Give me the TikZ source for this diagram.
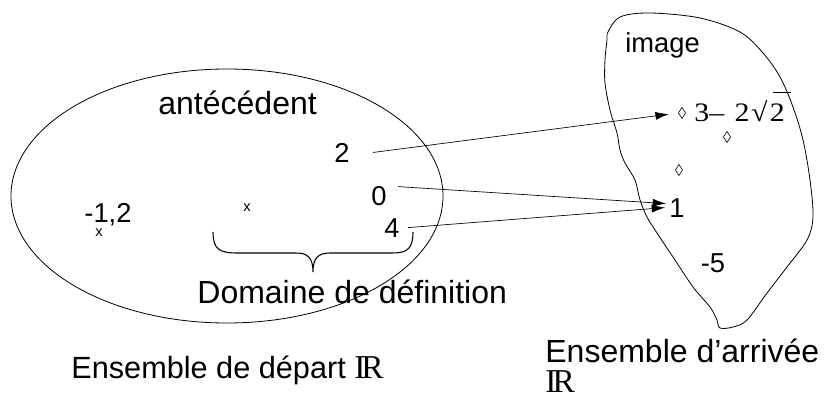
\documentclass[tikz,border=0pt]{standalone}
\usepackage{fontspec}
\usepackage{graphicx}
\setmainfont{Liberation Sans}
\newfontfamily\serif{Liberation Serif}
\usetikzlibrary{arrows.meta,calc,shapes.geometric}
\tikzset{
  big/.style={font=\fontsize{24}{29}\selectfont, inner sep=0pt},
  num/.style={font=\fontsize{20.5}{24}\selectfont, inner sep=0pt},
  xdot/.style={font=\fontsize{11}{13}\selectfont, inner sep=0pt},
  reals/.style={font=\serif\fontsize{25}{30}\selectfont, inner sep=0pt},
  lozenge/.style={diamond, draw, line width=0.45pt, inner sep=0pt,
    minimum width=5.5pt, minimum height=8.5pt},
  arr/.style={-{Latex[length=10pt,width=6pt]}, line width=0.5pt},
}
\newcommand{\dblR}{I\kern-0.12em R}
\begin{document}
\begin{tikzpicture}[x=0.75pt, y=-0.75pt, line width=0.6pt]
\useasboundingbox (0,0) rectangle (829,403);

% starting set
\draw (227,196) ellipse [x radius=162pt, y radius=95.25pt];
\node[big, anchor=base west] (ant) at (158,114) {antécédent};
\node[num, anchor=base] (two) at (342,162) {2};
\node[num, anchor=base] (zero) at (379,205) {0};
\node[num, anchor=base] (four) at (392,237) {4};
\node[num, anchor=base west] (m12) at (84,222) {-1,2};
\node[xdot] (x1) at (99,233) {x};
\node[xdot] (x2) at (247,208) {x};

% brace under the domain
\draw[line width=0.8pt] (213,232) .. controls (213,250) and (220,253) .. (238,253)
  -- (296,253) .. controls (308,253) and (313,258) .. (313,272)
  .. controls (313,258) and (318,253) .. (330,253)
  -- (392,253) .. controls (406,253) and (413,250) .. (413,232);
\node[big, anchor=base west] (dom) at (197,303) {Domaine de définition};

\node[big, font=\fontsize{23}{28}\selectfont, anchor=base west] (dep) at (71,378)
  {Ensemble de départ {\serif\fontsize{25}{30}\selectfont\dblR}};

% target set
\draw plot[smooth cycle, tension=0.55] coordinates {
  (608,32) (620,17) (650,13) (700,18) (740,32) (763,53) (780,77)
  (793,107) (803,140) (810,180) (813,217) (807,240) (787,267)
  (767,293) (747,320) (733,327) (720,328) (717,320) (710,307)
  (693,287) (673,257) (657,233) (647,217) (640,200) (635,180)
  (625,163) (620,150) (617,133) (610,110) (605,83) (605,60) (607,40)};
\node[num, anchor=base west] (img) at (625,53) {image};
\node[lozenge] (d1) at (682,113) {};
\node[lozenge] (d2) at (727,137) {};
\node[lozenge] (d3) at (679,170) {};
\node[anchor=base west, inner sep=0pt, font=\serif\fontsize{20}{24}\selectfont] (expr) at (694,122)
  {\scalebox{1.12}[1]{3–\hspace{0.35em}2\hspace{0.05em}√\hspace{0.08em}\makebox[0pt][l]{\hspace{0.1em}\raisebox{1.1em}{\rule{0.6em}{0.5pt}}}2}};
\node[num, anchor=base] (one) at (677,217) {1};
\node[num, anchor=base] (mfive) at (713,272) {-5};

\node[big, anchor=base west] (arr1) at (545,362) {Ensemble d'arrivée};
\node[reals, anchor=base west] (arr2) at (545,392) {\dblR};

% arrows
\draw[arr, shorten >=7pt] ($(two.east)+(23,0)$) -- (d1.west);
\draw[arr] ($(zero.east)+(11,-9)$) -- ($(one.west)+(-3,-4)$);
\draw[arr] ($(four.east)+(8,0)$) -- ($(one.west)+(-4,0)$);
\end{tikzpicture}
\end{document}
